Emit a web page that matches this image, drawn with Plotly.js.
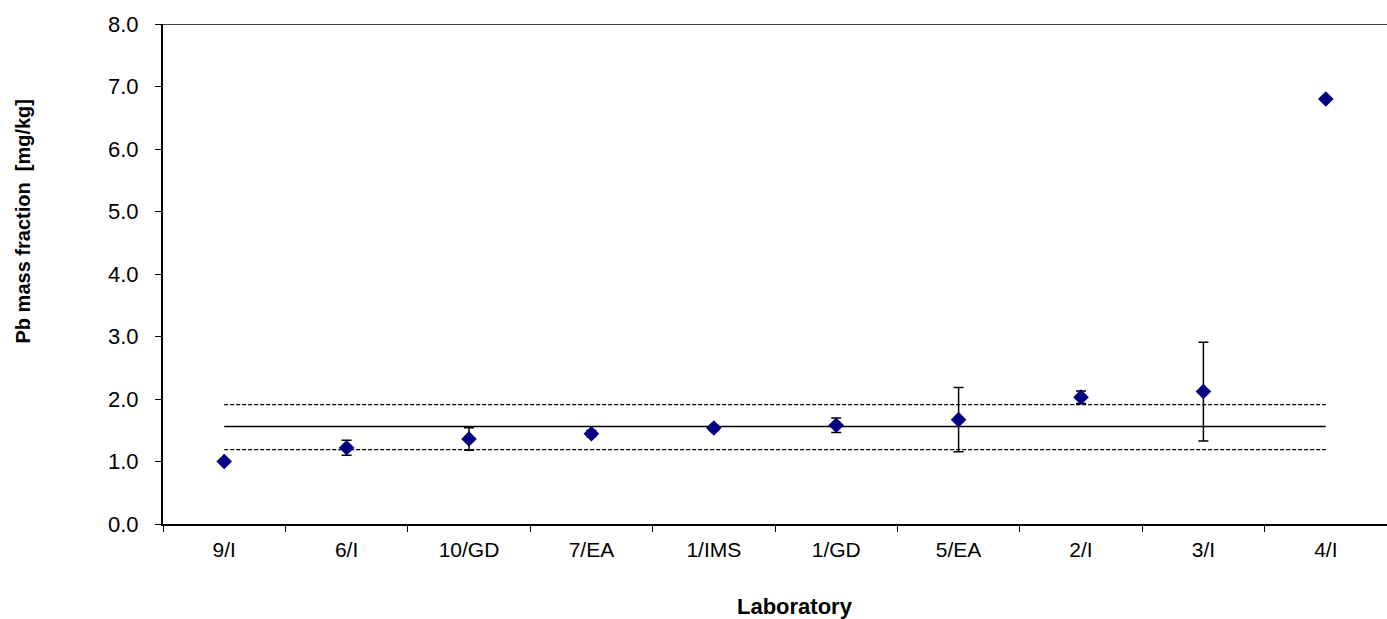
<!DOCTYPE html>
<html>
<head>
<meta charset="utf-8">
<script src="https://cdn.plot.ly/plotly-3.0.1.min.js"></script>
<style>html,body{margin:0;padding:0;background:#fff;}#chart{width:1387px;height:619px;}</style>
</head>
<body>
<div id="chart"></div>
<script>
const labs = ["9/I","6/I","10/GD","7/EA","1/IMS","1/GD","5/EA","2/I","3/I","4/I"];
const values = [1.00,1.22,1.36,1.445,1.535,1.58,1.67,2.03,2.12,6.80];
const uncert = [0.0,0.12,0.18,0.05,0.04,0.115,0.515,0.10,0.79,0.0];
const meanValue = 1.56;
const upperLimit = 1.91;
const lowerLimit = 1.19;
const yTicks = [0,1,2,3,4,5,6,7,8];
const yTickText = ["0.0","1.0","2.0","3.0","4.0","5.0","6.0","7.0","8.0"];
const lineEnds = [labs[0], labs[labs.length-1]];

const font = "Liberation Sans, Arial, sans-serif";

const traces = [
  {x: lineEnds, y: [meanValue, meanValue], type: "scatter", mode: "lines",
   line: {color: "#000", width: 1.5}, hoverinfo: "skip", showlegend: false},
  {x: lineEnds, y: [upperLimit, upperLimit], type: "scatter", mode: "lines",
   line: {color: "#000", width: 1.3, dash: "4px,2px"}, hoverinfo: "skip", showlegend: false},
  {x: lineEnds, y: [lowerLimit, lowerLimit], type: "scatter", mode: "lines",
   line: {color: "#000", width: 1.3, dash: "4px,2px"}, hoverinfo: "skip", showlegend: false},
  {x: labs, y: values, type: "scatter", mode: "markers",
   marker: {symbol: "diamond", size: 12, color: "#000080"},
   error_y: {type: "data", array: uncert, visible: true, color: "#000", thickness: 1.5, width: 5},
   showlegend: false}
];

const layout = {
  width: 1387, height: 619,
  margin: {l: 163, r: 0, t: 24, b: 95},
  paper_bgcolor: "#fff", plot_bgcolor: "#fff",
  showlegend: false,
  font: {family: font, size: 22, color: "#000"},
  xaxis: {
    type: "category", categoryarray: labs, categoryorder: "array",
    range: [-0.5, 9.5],
    showgrid: false, zeroline: false,
    showline: true, linecolor: "#000", linewidth: 2,
    ticks: "outside", tickson: "boundaries", ticklen: 6, tickcolor: "#000", tickwidth: 1,
    ticklabelstandoff: 6,
    tickfont: {family: font, size: 21, color: "#000"},
    title: {text: ""}
  },
  yaxis: {
    range: [0, 8], tickvals: yTicks, ticktext: yTickText,
    showgrid: false, zeroline: false,
    showline: true, linecolor: "#000", linewidth: 2,
    ticks: "outside", ticklen: 6, tickcolor: "#000", tickwidth: 1,
    ticklabelstandoff: 12,
    tickfont: {family: font, size: 22, color: "#000"},
    title: {text: ""}
  },
  shapes: [
    {type: "line", xref: "paper", yref: "y", x0: 0, x1: 1, y0: 8, y1: 8,
     line: {color: "#000", width: 1.5}}
  ],
  annotations: [
    {text: "<b>Laboratory</b>", xref: "paper", yref: "paper", x: 0.516, y: 0, yshift: -82,
     xanchor: "center", yanchor: "middle", showarrow: false,
     font: {family: font, size: 22, color: "#000"}},
    {text: "<b>Pb mass fraction  [mg/kg]</b>", xref: "paper", yref: "paper", x: 0, xshift: -141,
     y: 0.605, xanchor: "center", yanchor: "middle", textangle: -90, showarrow: false,
     font: {family: font, size: 20, color: "#000"}}
  ]
};

Plotly.newPlot("chart", traces, layout, {displayModeBar: false, staticPlot: true});
</script>
</body>
</html>
